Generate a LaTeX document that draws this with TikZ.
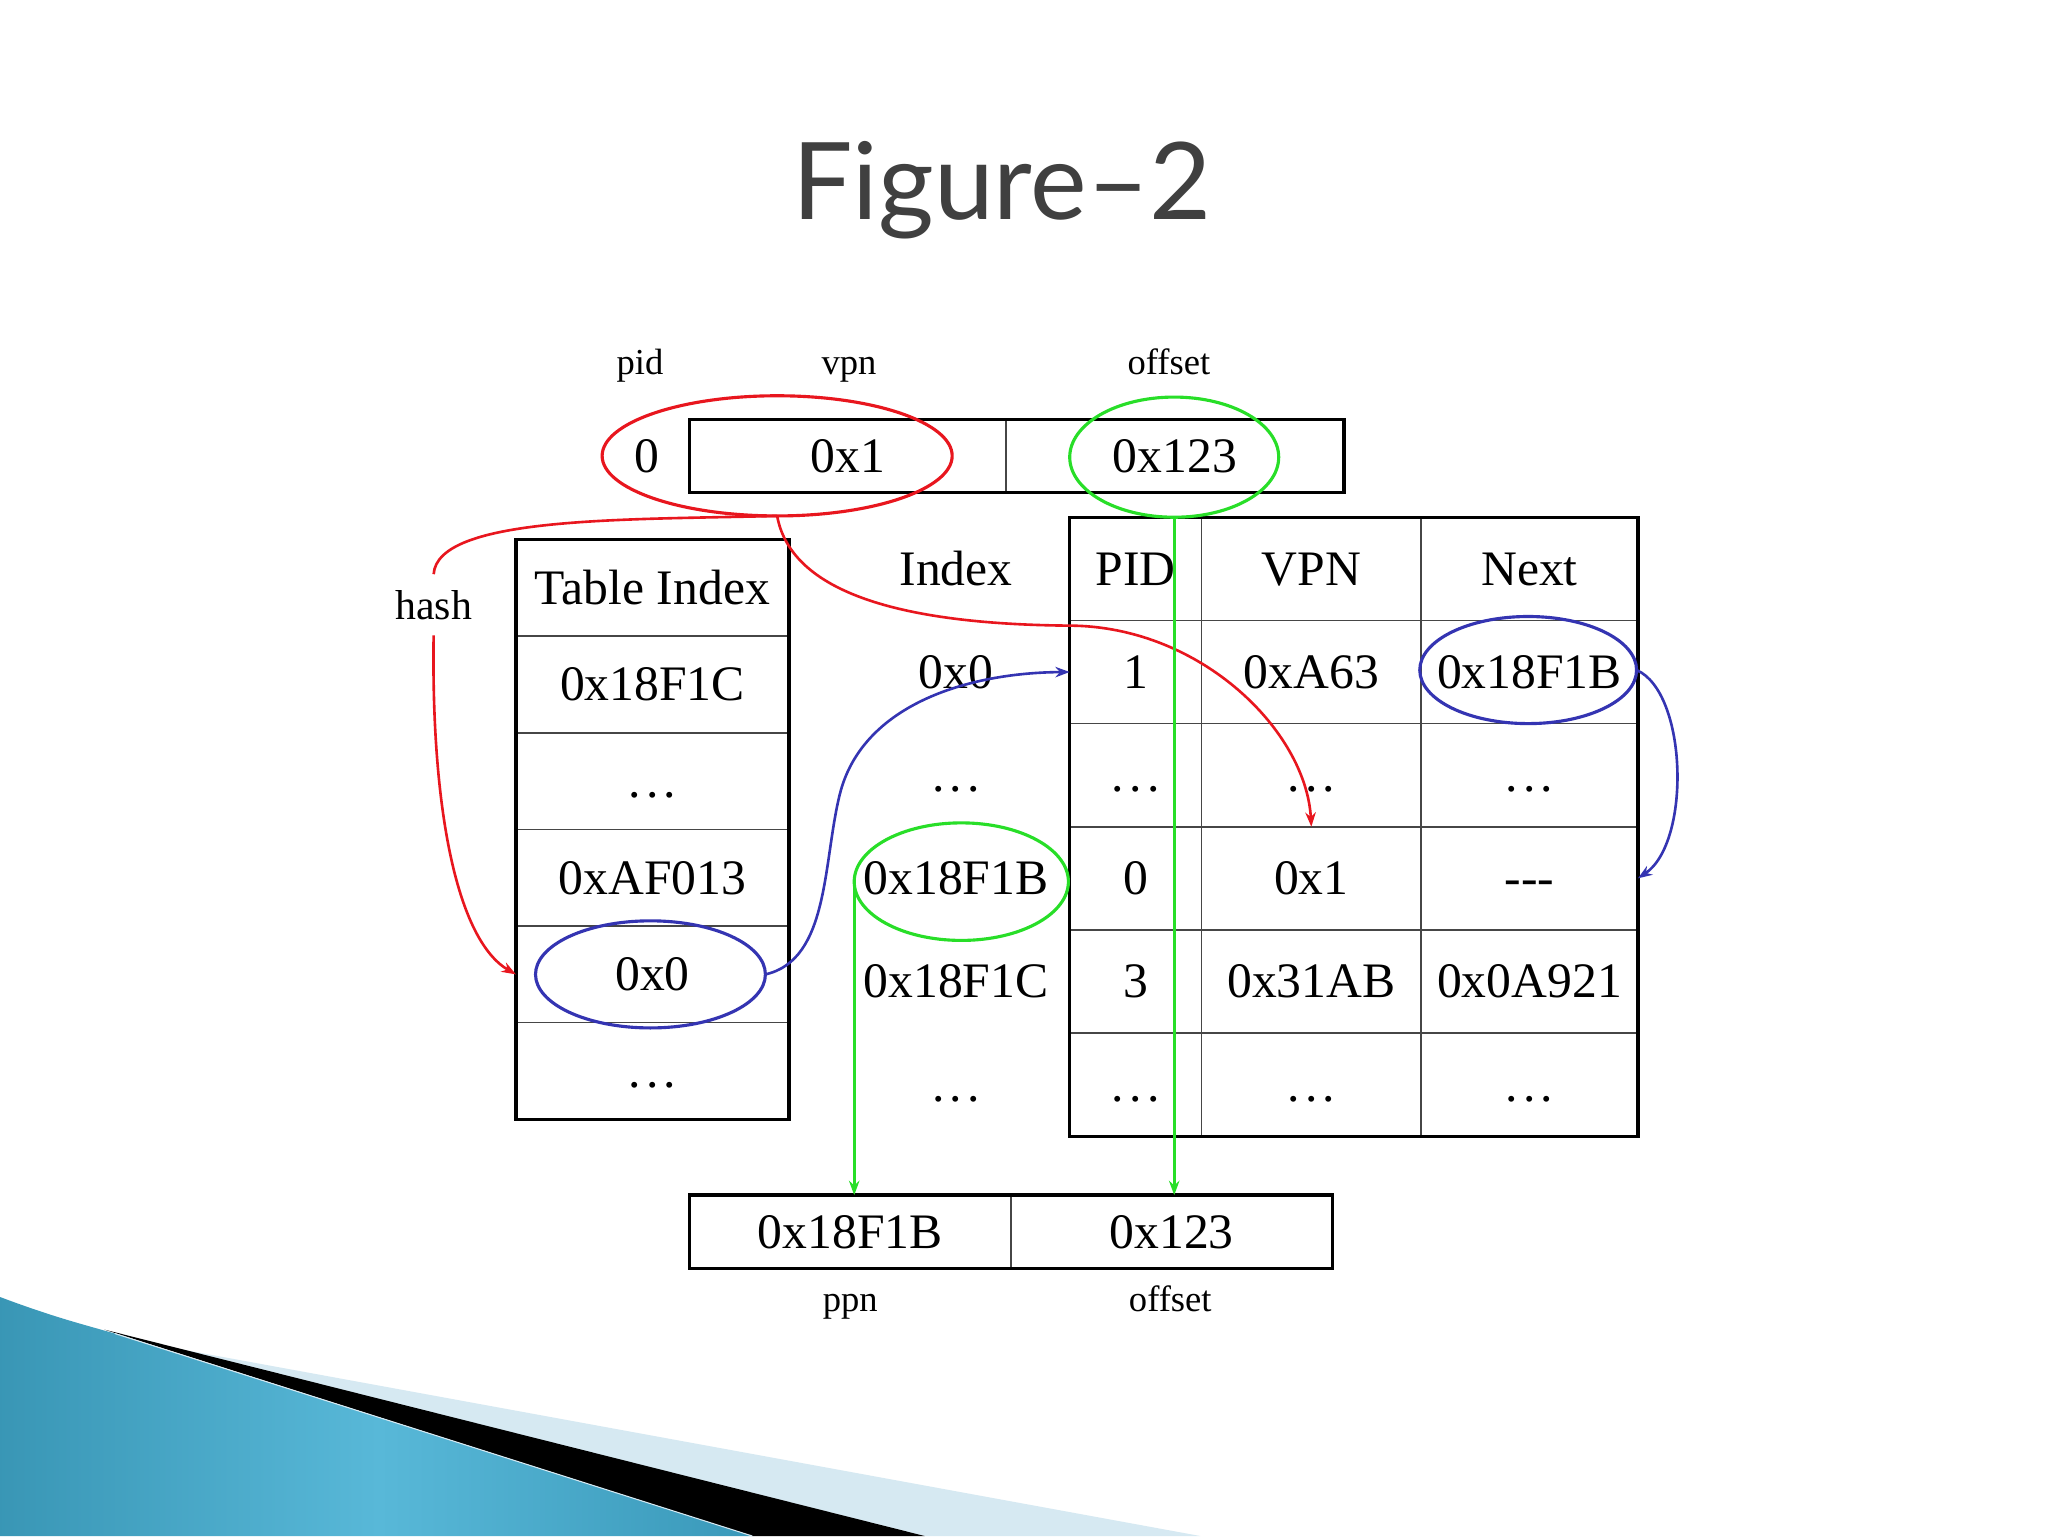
\documentclass[tikz,border=0pt]{standalone}
\usepackage{fontspec}
\setmainfont{Liberation Serif}
\newfontfamily\titlefont{Lato}
\usetikzlibrary{shapes.geometric,arrows.meta}
\definecolor{myred}{RGB}{232,22,30}
\definecolor{mygreen}{RGB}{40,222,40}
\definecolor{myblue}{RGB}{52,52,178}
\definecolor{gridgray}{RGB}{70,70,70}
\definecolor{titlegray}{RGB}{64,64,64}
\definecolor{tealA}{RGB}{22,112,142}
\definecolor{tealB}{RGB}{88,184,216}
\definecolor{tealC}{RGB}{22,116,150}
\definecolor{paleblue}{RGB}{214,233,242}
\pgfdeclarehorizontalshading{tealshade}{100bp}{color(0bp)=(tealA); color(50bp)=(tealB); color(100bp)=(tealC)}
\newcommand\mydots{.\kern4pt.\kern4pt.}
\newcommand\mydash{{-}{-}{-}}
\begin{document}
\begin{tikzpicture}[x=1pt,y=-1pt,
  celltxt/.style={inner sep=0pt, outer sep=0pt, text height=27pt, text depth=2pt, font=\fontsize{38}{40}\selectfont},
  cellbox/.style={celltxt, draw=gridgray, line width=1.2pt},
  lbl/.style={anchor=base, inner sep=0pt, font=\fontsize{28}{30}\selectfont},
  ell/.style={ellipse, inner sep=0pt, outer sep=0pt, line width=2.4pt},
  outer/.style={draw=black, line width=2.6pt},
  tip/.style={-{Stealth[length=11pt,width=8pt]}},
  redline/.style={draw=myred, line width=2pt},
  blueline/.style={draw=myblue, line width=2pt},
  greenline/.style={draw=mygreen, line width=2pt}
]
\useasboundingbox (0,0) rectangle (1568,1176);
\fill[white] (0,0) rectangle (1568,1176);

% slide decoration
\fill[paleblue] (100,1026) -- (919,1176) -- (708,1176) -- (88,1021) -- cycle;
\fill[black] (80,1018) -- (708,1176) -- (576,1176) -- cycle;
\begin{scope}
  \clip (0,993) .. controls (40,1008) and (60,1013) .. (88,1021) -- (576,1176) -- (0,1176) -- cycle;
  \shade[shading=tealshade] (-20,980) rectangle (600,1190);
\end{scope}
\draw[paleblue, line width=0.8pt] (88,1021) -- (576,1176);

% title
\node[anchor=base, inner sep=0pt, font=\titlefont\fontsize{82}{84}\selectfont, text=titlegray] (title) at (767,168) {Figure–2};

% virtual address
\node[lbl] (lpid) at (490,287) {pid};
\node[lbl] (lvpn) at (650,287) {vpn};
\node[lbl] (loff) at (895,287) {offset};
\node[celltxt] (pidv) at (495,349) {0};
\node[cellbox, minimum width=242pt, minimum height=56pt] (va1) at (649,349) {0x1};
\node[cellbox, minimum width=259pt, minimum height=56pt] (va2) at (899.5,349) {0x123};
\draw[outer] (va1.north west) rectangle (va2.south east);

% hash table index
\foreach \txt [count=\i from 0] in {Table Index,0x18F1C,\mydots,0xAF013,0x0,\mydots}{
  \node[cellbox, minimum width=209pt, minimum height=74pt] (tA\i) at (499.5,{450+74*\i}) {\txt};
}
\draw[outer] (tA0.north west) rectangle (tA5.south east);
\node[anchor=base, inner sep=12pt, font=\fontsize{32}{34}\selectfont] (hash) at (332,474) {hash};

% index column
\foreach \txt [count=\i from 0] in {Index,0x0,\mydots,0x18F1B,0x18F1C,\mydots}{
  \node[celltxt] (ix\i) at (732,{435.5+79*\i}) {\txt};
}

% inverted page table
\foreach \p/\v/\n [count=\i from 0] in {PID/VPN/Next,1/0xA63/0x18F1B,\mydots/\mydots/\mydots,0/0x1/\mydash,3/0x31AB/0x0A921,\mydots/\mydots/\mydots}{
  \node[cellbox, minimum width=101pt, minimum height=79pt] (pid\i) at (869.5,{435.5+79*\i}) {\p};
  \node[cellbox, minimum width=168pt, minimum height=79pt] (vpn\i) at (1004,{435.5+79*\i}) {\v};
  \node[cellbox, minimum width=166pt, minimum height=79pt] (nxt\i) at (1171,{435.5+79*\i}) {\n};
}
\draw[outer] (pid0.north west) rectangle (nxt5.south east);

% physical address
\node[cellbox, minimum width=246pt, minimum height=56pt] (pa1) at (651,943) {0x18F1B};
\node[cellbox, minimum width=246pt, minimum height=56pt] (pa2) at (897,943) {0x123};
\draw[outer] (pa1.north west) rectangle (pa2.south east);
\node[lbl] (lppn) at (651,1004) {ppn};
\node[lbl] (loff2) at (896,1004) {offset};

% ellipses
\node[ell, draw=myred, minimum width=268pt, minimum height=92pt] (redE) at (595,349) {};
\node[ell, draw=mygreen, minimum width=160pt, minimum height=92pt] (greenT) at (899,350) {};
\node[ell, draw=mygreen, minimum width=164pt, minimum height=90pt] (greenM) at (736,675) {};
\node[ell, draw=myblue, minimum width=176pt, minimum height=82pt] (blueL) at (498,746) {};
\node[ell, draw=myblue, minimum width=166pt, minimum height=82pt] (blueR) at (1170,513) {};

% connectors
\draw[redline] (redE.south) .. controls (480,398) and (335,395) .. (hash.north);
\draw[redline, tip] (hash.south) .. controls (330,620) and (350,720) .. (tA4.west);
\draw[redline, tip] (redE.south) .. controls (605,450) and (680,478) .. (820,479)
  .. controls (920,480) and (1000,560) .. (vpn3.north);
\draw[blueline, tip] (blueL.east) .. controls (635,735) and (630,660) .. (643,608)
  .. controls (660,540) and (740,515) .. (pid1.west);
\draw[blueline, tip] (blueR.east) .. controls (1292,530) and (1295,645) .. (nxt3.east);
\draw[greenline, tip] (greenT.south) -- (greenT.south |- pa2.north);
\draw[greenline, tip] (greenM.west) -- (greenM.west |- pa1.north);
\end{tikzpicture}
\end{document}
